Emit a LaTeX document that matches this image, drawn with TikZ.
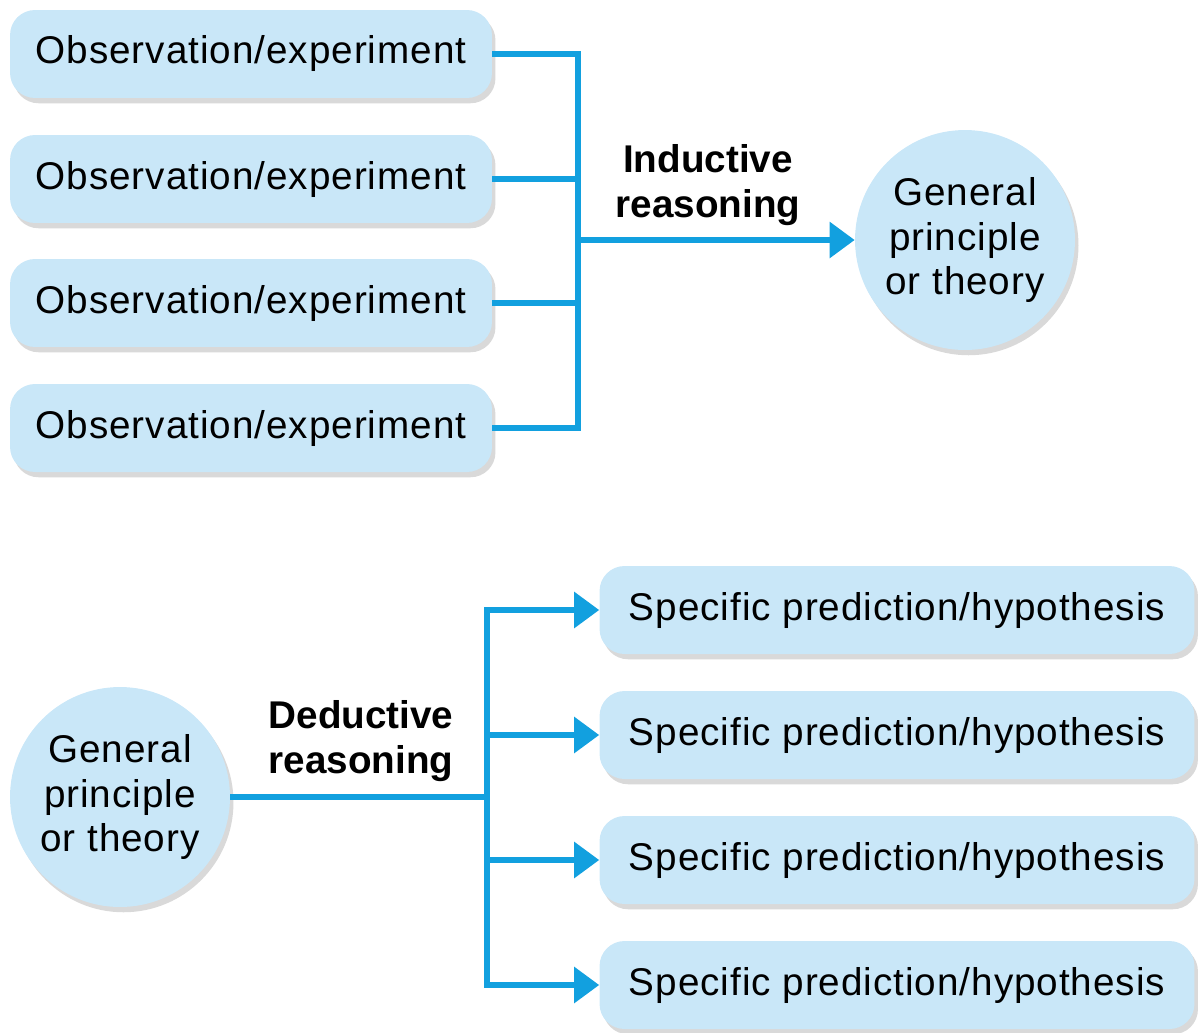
\documentclass[tikz,border=0pt]{standalone}
\usepackage{fontspec}
\setmainfont{Liberation Sans}
\usetikzlibrary{positioning}
\usetikzlibrary{arrows.meta}
\usetikzlibrary{shadows}

\definecolor{boxblue}{RGB}{201,231,248}
\definecolor{wireblue}{RGB}{18,160,223}

\tikzset{
  stepbox/.style={fill=boxblue, rounded corners=0.5cm, inner sep=0pt,
    minimum height=1.76cm, font=\fontsize{22}{26}\selectfont\addfontfeatures{LetterSpace=2.5},
    drop shadow={shadow xshift=2pt, shadow yshift=-3pt, opacity=0.25, fill=black!60}},
  obsbox/.style={stepbox, minimum width=9.64cm},
  predbox/.style={stepbox, minimum width=11.9cm},
  theory/.style={circle, fill=boxblue, minimum size=4.4cm, inner sep=0pt, align=center,
    font=\fontsize{22}{25.6}\selectfont\addfontfeatures{LetterSpace=2.5},
    drop shadow={shadow xshift=2pt, shadow yshift=-3pt, opacity=0.25, fill=black!60}},
  reason/.style={align=center, font=\fontsize{22}{26}\selectfont\bfseries},
  wire/.style={draw=wireblue, line width=3.3pt},
  tip/.style={-{Triangle[length=0.5cm, width=0.7cm]}}
}

\begin{document}
\begin{tikzpicture}[x=0.02cm, y=-0.02cm]
			\useasboundingbox (0,0) rectangle (1204,1032);

			% Inductive part
			\foreach \i/\y in {1/54, 2/179, 3/303, 4/428}
			\node[obsbox] (obs\i) at (251,\y) {Observation/experiment};
			\node[theory] (gen1) at (965,240) {General\\principle\\or theory};
			\coordinate (ind) at (578,240);
			\node[reason] (indlabel) at (708,185) {Inductive\\reasoning};

			\foreach \i in {1,...,4}
			\draw[wire] (obs\i.east) -| (ind);
			\draw[wire, tip] (ind) -- (gen1);

			% Deductive part
			\foreach \i/\y in {1/610, 2/735, 3/860, 4/985}
			\node[predbox] (pred\i) at (897,\y) {Specific prediction/hypothesis};
			\node[theory] (gen2) at (120,797) {General\\principle\\or theory};
			\coordinate (ded) at (487,797);
			\node[reason] (dedlabel) at (361,741) {Deductive\\reasoning};

			\draw[wire] (gen2) -- (ded);
			\foreach \i in {1,...,4}
			\draw[wire, tip] (ded) |- (pred\i.west);
\end{tikzpicture}
\end{document}
